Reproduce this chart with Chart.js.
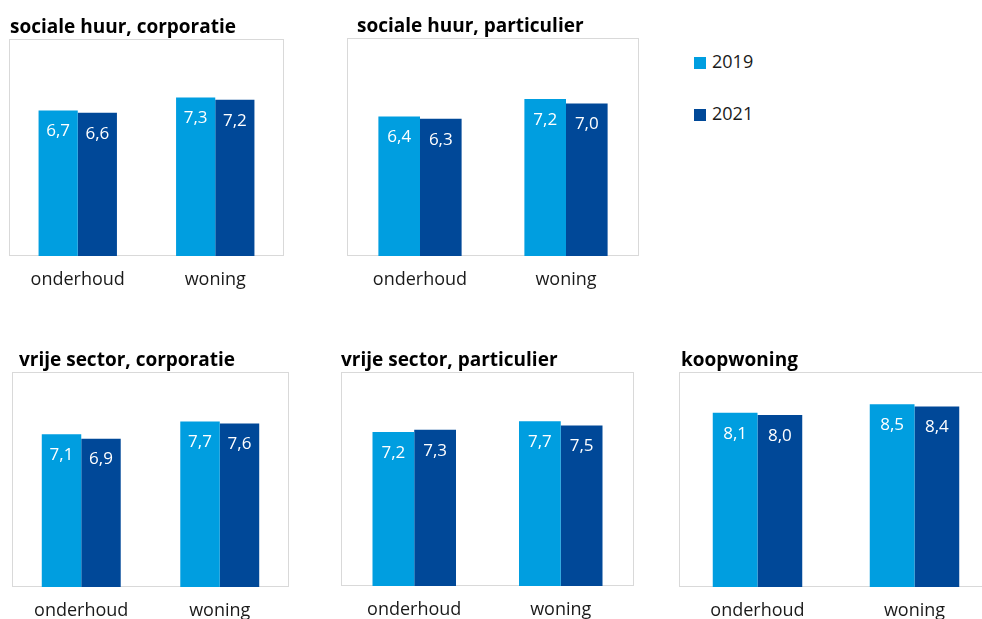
<!DOCTYPE html>
<html>
<head>
<meta charset="utf-8">
<script src="https://cdn.jsdelivr.net/npm/chart.js@4/dist/chart.umd.min.js"></script>
<style>
  html, body { margin: 0; padding: 0; background: #fff; }
  #page { position: relative; width: 982px; height: 619px; overflow: hidden; font-family: "Open Sans", sans-serif; }
  #page canvas { position: absolute; }
  .legend-item { position: absolute; left: 694px; height: 14px; font-size: 18px; color: #1a1a1a; line-height: 14px; }
  .legend-item span { display: inline-block; width: 12px; height: 12px; margin-right: 6px; vertical-align: -1px; }
</style>
</head>
<body>
<div id="page">
  <div class="legend-item" style="top:54px"><span style="background:rgb(0,158,224)"></span>2019</div>
  <div class="legend-item" style="top:106px"><span style="background:rgb(0,72,152)"></span>2021</div>
</div>
<script>
const CATEGORIES = ["onderhoud", "woning"];
const TITLES = [
  "sociale huur, corporatie",
  "sociale huur, particulier",
  "vrije sector, corporatie",
  "vrije sector, particulier",
  "koopwoning"
];
const VALUES_2019 = [[6.7, 7.3], [6.4, 7.2], [7.1, 7.7], [7.2, 7.7], [8.1, 8.5]];
const VALUES_2021 = [[6.6, 7.2], [6.3, 7.0], [6.9, 7.6], [7.3, 7.5], [8.0, 8.4]];

const COLOR_2019 = "rgb(0, 158, 224)";
const COLOR_2021 = "rgb(0, 72, 152)";
const FONT = "'Open Sans', sans-serif";

// plot frame of every panel on the page: left, top, right, bottom, title indent
const PANELS = [
  [9, 39, 284, 256, 1],
  [347, 38, 639, 256, 10],
  [12, 372, 289, 587, 7],
  [341, 372, 634, 586, 0],
  [679, 372, 993, 587, 2]
];
const TOP_SPACE = 40;
const AXIS_SPACE = 45;

// grey box around the plot area plus the bold panel title above it
const framePlugin = {
  id: "frame",
  beforeDatasetsDraw(chart, args, opts) {
    const { ctx, chartArea: a } = chart;
    ctx.save();
    ctx.strokeStyle = "#d9d9d9";
    ctx.lineWidth = 1;
    ctx.strokeRect(a.left + 0.5, a.top + 0.5, a.right - a.left - 1, a.bottom - a.top - 1);
    ctx.fillStyle = "#000";
    ctx.font = "bold 19px " + FONT;
    ctx.textAlign = "left";
    ctx.textBaseline = "alphabetic";
    ctx.fillText(opts.text, a.left + opts.indent, a.top - 6);
    ctx.restore();
  }
};

// white value inside the top of each bar, with a decimal comma
const valuePlugin = {
  id: "values",
  afterDatasetsDraw(chart) {
    const { ctx } = chart;
    ctx.save();
    ctx.fillStyle = "#fff";
    ctx.font = "17px " + FONT;
    ctx.textAlign = "center";
    ctx.textBaseline = "middle";
    chart.data.datasets.forEach((ds, i) => {
      chart.getDatasetMeta(i).data.forEach((bar, j) => {
        ctx.fillText(ds.data[j].toFixed(1).replace(".", ","), bar.x, bar.y + 21);
      });
    });
    ctx.restore();
  }
};

const page = document.getElementById("page");

PANELS.forEach(([left, top, right, bottom, indent], p) => {
  const canvas = document.createElement("canvas");
  canvas.width = right - left + 4;
  canvas.height = bottom - top + TOP_SPACE + AXIS_SPACE;
  canvas.style.left = (left - 2) + "px";
  canvas.style.top = (top - TOP_SPACE) + "px";
  page.appendChild(canvas);

  new Chart(canvas, {
    type: "bar",
    data: {
      labels: CATEGORIES,
      datasets: [
        { label: "2019", data: VALUES_2019[p], backgroundColor: COLOR_2019 },
        { label: "2021", data: VALUES_2021[p], backgroundColor: COLOR_2021 }
      ]
    },
    options: {
      responsive: false,
      animation: false,
      layout: { padding: { top: TOP_SPACE, left: 2, right: 2, bottom: 0 } },
      datasets: { bar: { categoryPercentage: 0.57, barPercentage: 1 } },
      scales: {
        x: {
          grid: { display: false, drawTicks: false },
          border: { display: false },
          ticks: { color: "#1a1a1a", padding: 13, font: { family: FONT, size: 18 } },
          afterFit(scale) { scale.height = AXIS_SPACE; }
        },
        y: { display: false, min: 0, max: 10 }
      },
      plugins: {
        legend: { display: false },
        tooltip: { enabled: false },
        frame: { text: TITLES[p], indent: indent }
      }
    },
    plugins: [framePlugin, valuePlugin]
  });
});
</script>
</body>
</html>
